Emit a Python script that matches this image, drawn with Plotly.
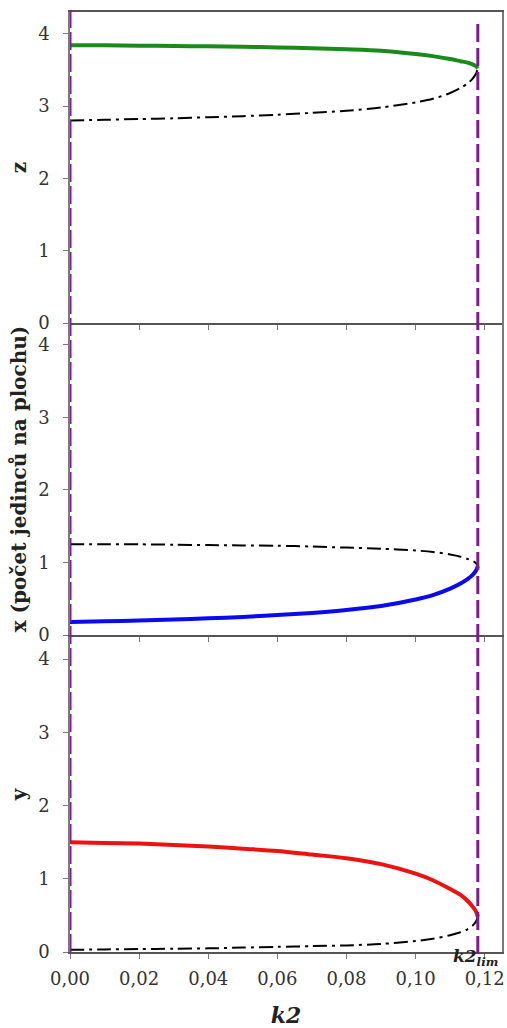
import plotly.graph_objects as go
from plotly.subplots import make_subplots

# Bifurcation parameter k2 and the fold point k2_lim
k2 = [0.0, 0.01, 0.02, 0.03, 0.04, 0.05, 0.06, 0.07, 0.08, 0.09, 0.10,
      0.105, 0.11, 0.113, 0.115, 0.1165, 0.1175, 0.118]
k2_lim = 0.118

# z: stable (green) and unstable (dash-dot) branches
z_stable = [3.84, 3.84, 3.835, 3.83, 3.825, 3.82, 3.81, 3.80, 3.785, 3.765, 3.72,
            3.69, 3.65, 3.62, 3.60, 3.575, 3.55, 3.52]
z_unstable = [2.80, 2.81, 2.82, 2.83, 2.845, 2.86, 2.88, 2.905, 2.935, 2.98, 3.05,
              3.10, 3.18, 3.25, 3.31, 3.38, 3.45, 3.52]

# x: stable (blue) and unstable (dash-dot) branches
x_stable = [0.18, 0.19, 0.20, 0.215, 0.23, 0.25, 0.275, 0.305, 0.345, 0.40, 0.49,
            0.55, 0.64, 0.71, 0.77, 0.83, 0.89, 0.95]
x_unstable = [1.25, 1.25, 1.25, 1.245, 1.24, 1.235, 1.23, 1.22, 1.205, 1.19, 1.165,
              1.145, 1.11, 1.08, 1.05, 1.02, 0.99, 0.95]

# y: stable (red) and unstable (dash-dot) branches
y_stable = [1.50, 1.49, 1.48, 1.46, 1.44, 1.41, 1.38, 1.33, 1.28, 1.20, 1.07,
            0.98, 0.86, 0.78, 0.70, 0.62, 0.55, 0.48]
y_unstable = [0.03, 0.035, 0.04, 0.045, 0.05, 0.06, 0.07, 0.08, 0.09, 0.11, 0.15,
              0.18, 0.23, 0.27, 0.31, 0.36, 0.42, 0.48]

x_ticks = [0.0, 0.02, 0.04, 0.06, 0.08, 0.10, 0.12]
x_tick_text = ["0,00", "0,02", "0,04", "0,06", "0,08", "0,10", "0,12"]
y_ticks = [0, 1, 2, 3, 4]

panels = [
    ("z", z_stable, z_unstable, "#1a8a1a"),
    ("x (počet jedinců na plochu)", x_stable, x_unstable, "#0a0aee"),
    ("y", y_stable, y_unstable, "#ee1111"),
]

fig = make_subplots(rows=3, cols=1, shared_xaxes=True, vertical_spacing=0.0)

DASHDOT = "14px,5px,3px,5px"
for i, (name, stable, unstable, color) in enumerate(panels, start=1):
    fig.add_trace(go.Scatter(x=k2, y=unstable, mode="lines",
                             line=dict(color="black", width=2, dash=DASHDOT,
                                       shape="spline", smoothing=0.8),
                             showlegend=False), row=i, col=1)
    fig.add_trace(go.Scatter(x=k2, y=stable, mode="lines",
                             line=dict(color=color, width=4,
                                       shape="spline", smoothing=0.8),
                             showlegend=False), row=i, col=1)

TICK_FONT = dict(family="DejaVu Serif", size=18, color="#333333")
TITLE_FONT = dict(family="DejaVu Serif", size=20, color="#222222")
AXIS_COLOR = "#7a7a7a"

domains = [[0.6691, 1.0], [0.3372, 0.6691], [0.0, 0.335]]
for i, (name, *_rest) in enumerate(panels, start=1):
    fig.update_yaxes(row=i, col=1, domain=domains[i - 1], range=[0, 4.3],
                     tickvals=y_ticks, ticks="outside", ticklen=5, tickcolor=AXIS_COLOR,
                     ticklabelstandoff=10,
                     showline=True, linecolor=AXIS_COLOR, linewidth=1.5, mirror=True,
                     showgrid=False, zeroline=False, tickfont=TICK_FONT,
                     title=dict(text="<b>%s</b>" % name, font=TITLE_FONT, standoff=6))
    fig.update_xaxes(row=i, col=1, range=[0, 0.125], tickvals=x_ticks,
                     ticktext=x_tick_text, ticks="outside", ticklen=5, tickcolor=AXIS_COLOR,
                     ticklabelstandoff=5,
                     showline=True, linecolor="#555555", linewidth=1.5,
                     mirror=(i == 1), showgrid=False, zeroline=False, tickfont=TICK_FONT,
                     showticklabels=(i == 3))

fig.update_xaxes(row=3, col=1,
                 title=dict(text="<b><i>k2</i></b>",
                            font=dict(family="DejaVu Serif", size=22, color="#222222"),
                            standoff=20))

# Vertical dashed markers at k2 = 0 and k2 = k2_lim
PURPLE = "#7e1c8c"
fig.add_shape(type="line", xref="x3", yref="paper", x0=0, x1=0, y0=0, y1=1.003,
              line=dict(color=PURPLE, width=3, dash="18px,4px"))
fig.add_shape(type="line", xref="x3", yref="paper", x0=k2_lim, x1=k2_lim,
              y0=-0.002, y1=0.9936, line=dict(color=PURPLE, width=3, dash="18px,6px"))

fig.add_annotation(x=k2_lim, xref="x3", y=-0.006, yref="paper",
                   text="<b><i>k2<sub>lim</sub></i></b>", showarrow=False,
                   xanchor="center", yanchor="middle", xshift=-2,
                   font=dict(family="DejaVu Serif", size=17, color="#222222"))

fig.update_layout(width=507, height=1028,
                  margin=dict(l=70, r=5, t=12, b=76, autoexpand=False),
                  paper_bgcolor="white", plot_bgcolor="white")

fig.write_html("out.html")
